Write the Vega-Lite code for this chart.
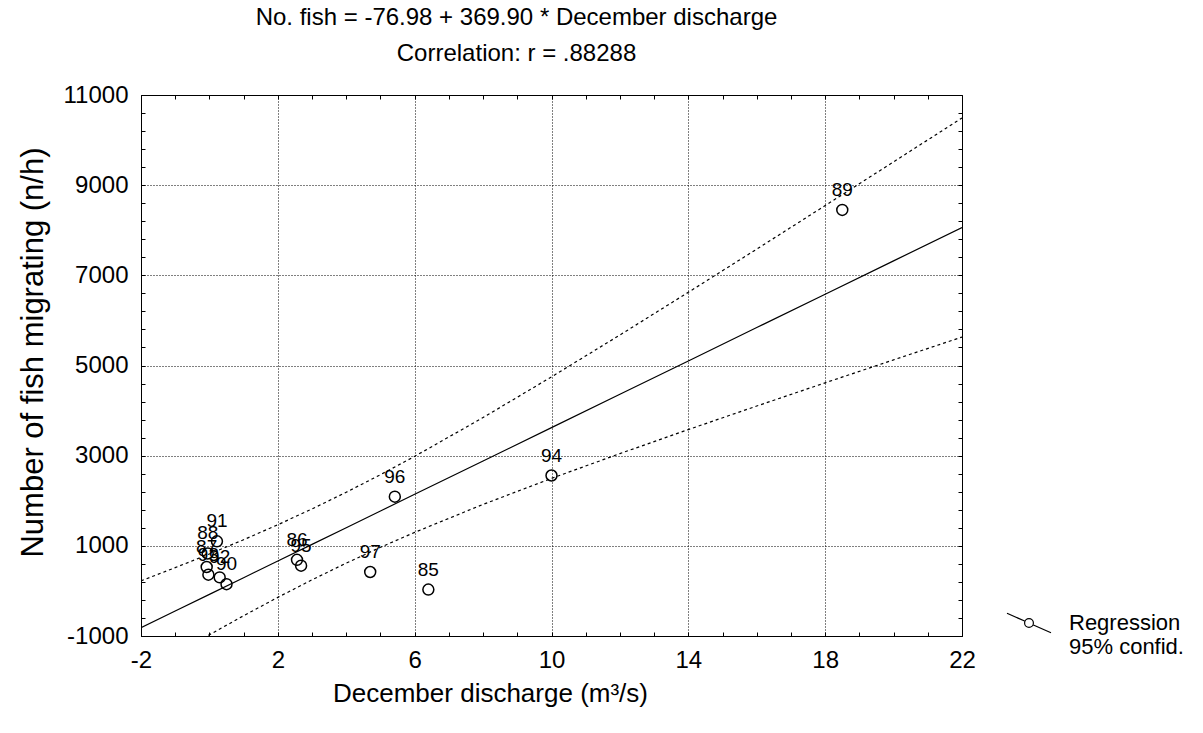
{
  "$schema": "https://vega.github.io/schema/vega-lite/v6.json",
  "width": 821,
  "height": 541,
  "autosize": {"type": "none"},
  "padding": {"left": 141, "top": 95, "right": 241, "bottom": 97},
  "background": "white",
  "config": {
    "font": "Liberation Sans",
    "view": {"stroke": "black", "strokeWidth": 1}
  },
  "title": {
    "text": ["No. fish = -76.98 + 369.90 * December discharge", "Correlation: r = .88288"],
    "fontSize": 24,
    "fontWeight": "normal",
    "color": "black",
    "font": "Liberation Sans",
    "lineHeight": 36,
    "offset": 17,
    "dx": -35,
    "anchor": "middle"
  },
  "datasets": {
    "pts": [
      {"year": "85", "discharge": 6.40, "fish": 30},
      {"year": "86", "discharge": 2.56, "fish": 690},
      {"year": "87", "discharge": -0.08, "fish": 530},
      {"year": "88", "discharge": -0.05, "fish": 830},
      {"year": "89", "discharge": 18.50, "fish": 8450},
      {"year": "90", "discharge": 0.50, "fish": 150},
      {"year": "91", "discharge": 0.22, "fish": 1100},
      {"year": "92", "discharge": 0.30, "fish": 300},
      {"year": "93", "discharge": -0.03, "fish": 360},
      {"year": "94", "discharge": 10.00, "fish": 2560},
      {"year": "95", "discharge": 2.68, "fish": 560},
      {"year": "96", "discharge": 5.42, "fish": 2090},
      {"year": "97", "discharge": 4.70, "fish": 420}
    ],
    "fit": [
      {"x": -2, "fit": -816.8, "upper": 223, "lower": -1857},
      {"x": -1, "fit": -446.9, "upper": 516, "lower": -1410},
      {"x": 0, "fit": -77.0, "upper": 819, "lower": -973},
      {"x": 1, "fit": 292.9, "upper": 1136, "lower": -550},
      {"x": 2, "fit": 662.8, "upper": 1468, "lower": -143},
      {"x": 3, "fit": 1032.7, "upper": 1819, "lower": 247},
      {"x": 4, "fit": 1402.6, "upper": 2189, "lower": 617},
      {"x": 5, "fit": 1772.5, "upper": 2578, "lower": 967},
      {"x": 6, "fit": 2142.4, "upper": 2985, "lower": 1299},
      {"x": 8, "fit": 2882.2, "upper": 3845, "lower": 1919},
      {"x": 10, "fit": 3622.0, "upper": 4748, "lower": 2496},
      {"x": 12, "fit": 4361.8, "upper": 5677, "lower": 3046},
      {"x": 14, "fit": 5101.6, "upper": 6624, "lower": 3579},
      {"x": 16, "fit": 5841.4, "upper": 7582, "lower": 4101},
      {"x": 18, "fit": 6581.2, "upper": 8547, "lower": 4616},
      {"x": 20, "fit": 7321.0, "upper": 9517, "lower": 5125},
      {"x": 22, "fit": 8060.8, "upper": 10491, "lower": 5631}
    ]
  },
  "layer": [
    {
      "data": {"name": "pts"},
      "mark": {"type": "point", "shape": "circle", "filled": false, "size": 120, "stroke": "black", "strokeWidth": 1.5, "opacity": 1},
      "encoding": {
        "x": {
          "field": "discharge", "type": "quantitative",
          "scale": {"domain": [-2, 22], "nice": false, "zero": false},
          "axis": {
            "orient": "bottom",
            "values": [-2,-1,0,1,2,3,4,5,6,7,8,9,10,11,12,13,14,15,16,17,18,19,20,21,22],
            "labelExpr": "(datum.value + 2) % 4 === 0 ? '' + datum.value : ''",
            "labelOverlap": false,
            "labelFlush": false,
            "labelBound": false,
            "grid": true,
            "gridColor": "black",
            "gridDash": [1, 2],
            "gridWidth": 1,
            "gridOpacity": {"condition": {"test": "(datum.value + 2) % 4 === 0 && datum.value > -2 && datum.value < 22", "value": 1}, "value": 0},
            "tickSize": -4,
            "tickColor": "black",
            "domainColor": "black",
            "labelFontSize": 24,
            "labelColor": "black",
            "labelPadding": 16,
            "title": "December discharge (m³/s)",
            "titleFontSize": 26,
            "titleFontWeight": "normal",
            "titleColor": "black",
            "titlePadding": 8,
            "titleX": 349
          }
        },
        "y": {
          "field": "fish", "type": "quantitative",
          "scale": {"domain": [-1000, 11000], "nice": false, "zero": false},
          "axis": {
            "orient": "left",
            "values": [-1000,-600,-200,200,600,1000,1400,1800,2200,2600,3000,3400,3800,4200,4600,5000,5400,5800,6200,6600,7000,7400,7800,8200,8600,9000,9400,9800,10200,10600,11000],
            "labelExpr": "(datum.value + 1000) % 2000 === 0 ? '' + datum.value : ''",
            "labelOverlap": false,
            "labelFlush": false,
            "labelBound": false,
            "grid": true,
            "gridColor": "black",
            "gridDash": [1, 2],
            "gridWidth": 1,
            "gridOpacity": {"condition": {"test": "(datum.value + 1000) % 2000 === 0 && datum.value > -1000 && datum.value < 11000", "value": 1}, "value": 0},
            "tickSize": -4,
            "tickColor": "black",
            "domainColor": "black",
            "labelFontSize": 24,
            "labelColor": "black",
            "labelPadding": 17,
            "title": "Number of fish migrating (n/h)",
            "titleFontSize": 31,
            "titleFontWeight": "normal",
            "titleColor": "black",
            "titlePadding": 14,
            "titleY": 257
          }
        }
      }
    },
    {
      "data": {"name": "pts"},
      "mark": {"type": "text", "dy": -20, "fontSize": 19, "color": "black", "align": "center", "baseline": "middle"},
      "encoding": {
        "x": {"field": "discharge", "type": "quantitative", "axis": null},
        "y": {"field": "fish", "type": "quantitative", "axis": null},
        "text": {"field": "year"}
      }
    },
    {
      "data": {"name": "fit"},
      "mark": {"type": "line", "strokeWidth": 1.2, "clip": true},
      "encoding": {
        "x": {
          "field": "x", "type": "quantitative",
          "axis": {
            "orient": "top",
            "values": [-2,-1,0,1,2,3,4,5,6,7,8,9,10,11,12,13,14,15,16,17,18,19,20,21,22],
            "labels": false, "grid": false, "domain": false, "title": null,
            "tickSize": -4, "tickColor": "black"
          }
        },
        "y": {
          "field": "fit", "type": "quantitative",
          "axis": {
            "orient": "right",
            "values": [-1000,-600,-200,200,600,1000,1400,1800,2200,2600,3000,3400,3800,4200,4600,5000,5400,5800,6200,6600,7000,7400,7800,8200,8600,9000,9400,9800,10200,10600,11000],
            "labels": false, "grid": false, "domain": false, "title": null,
            "tickSize": -4, "tickColor": "black"
          }
        },
        "color": {
          "datum": "Regression",
          "type": "nominal",
          "scale": {"range": ["black"]},
          "legend": {
            "title": null,
            "orient": "none",
            "legendX": 865,
            "legendY": 505,
            "padding": 0,
            "symbolType": "M -1 -0.44 L -0.2 -0.09 M 0.2 0.09 L 1 0.44 M -0.2 0 A 0.2 0.2 0 1 0 0.2 0 A 0.2 0.2 0 1 0 -0.2 0",
            "symbolSize": 1936,
            "symbolStrokeWidth": 1.2,
            "symbolStrokeColor": "black",
            "symbolFillColor": "transparent",
            "labelExpr": "['Regression', '95% confid.']",
            "labelFontSize": 22,
            "labelFont": "Liberation Sans",
            "labelColor": "black",
            "labelOffset": 17,
            "labelLimit": 300,
            "labelBaseline": "middle"
          }
        }
      }
    },
    {
      "data": {"name": "fit"},
      "mark": {"type": "line", "strokeWidth": 1.2, "strokeDash": [3, 3], "color": "black", "clip": true},
      "encoding": {
        "x": {"field": "x", "type": "quantitative", "axis": null},
        "y": {"field": "upper", "type": "quantitative", "axis": null}
      }
    },
    {
      "data": {"name": "fit"},
      "mark": {"type": "line", "strokeWidth": 1.2, "strokeDash": [3, 3], "color": "black", "clip": true},
      "encoding": {
        "x": {"field": "x", "type": "quantitative", "axis": null},
        "y": {"field": "lower", "type": "quantitative", "axis": null}
      }
    }
  ],
  "resolve": {"axis": {"x": "independent", "y": "independent"}}
}
